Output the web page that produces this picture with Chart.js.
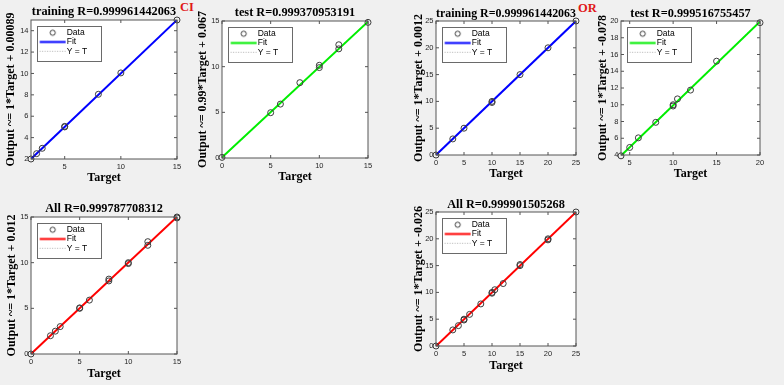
<!DOCTYPE html>
<html>
<head>
<meta charset="utf-8">
<script src="https://cdn.jsdelivr.net/npm/chart.js@4.4.0/dist/chart.umd.min.js"></script>
<style>
  body { margin: 0; background: #f0f0f0; width: 784px; height: 385px; overflow: hidden; position: relative; }
  canvas { position: absolute; }
  .tag { position: absolute; color: #e01818; font: bold 12.5px "Liberation Serif", serif; }
</style>
</head>
<body>
<div class="tag" style="left:180px;top:0px">CI</div>
<div class="tag" style="left:578px;top:1px">OR</div>
<script>
// CI training
const ciTrainTarget = [2, 2.5, 3, 5, 5, 8, 10, 15];
const ciTrainOutput = [2, 2.5, 3, 5, 5.05, 8.05, 10.05, 15];
const ciTrainFitX = [2, 15];
const ciTrainFitY = [2.00089, 15.00089];
const ciTrainRange = [2, 15];
const ciTrainXTicks = [5, 10, 15];
const ciTrainYTicks = [2, 4, 6, 8, 10, 12, 14];

// CI test
const ciTestTarget = [0, 5, 6, 8, 10, 10, 12, 12, 15];
const ciTestOutput = [0.07, 4.96, 5.9, 8.25, 10.15, 9.9, 12.4, 11.95, 14.85];
const ciTestFitX = [0, 15];
const ciTestFitY = [0.067, 14.917];
const ciTestRange = [0, 15];
const ciTestXTicks = [0, 5, 10, 15];
const ciTestYTicks = [0, 5, 10, 15];

// CI all
const ciAllTarget = [0, 2, 2.5, 3, 5, 5, 6, 8, 8, 10, 10, 12, 12, 15, 15];
const ciAllOutput = [0, 2, 2.5, 3, 5, 5.05, 5.9, 8, 8.2, 10, 9.9, 12.3, 11.9, 14.9, 15];
const ciAllFitX = [0, 15];
const ciAllFitY = [0.012, 15.012];
const ciAllRange = [0, 15];
const ciAllXTicks = [0, 5, 10, 15];
const ciAllYTicks = [0, 5, 10, 15];

// OR training
const orTrainTarget = [0, 3, 5, 10, 10, 15, 20, 25];
const orTrainOutput = [0, 3, 5, 10, 9.8, 15, 20, 25];
const orTrainFitX = [0, 25];
const orTrainFitY = [0.0012, 25.0012];
const orTrainRange = [0, 25];
const orTrainXTicks = [0, 5, 10, 15, 20, 25];
const orTrainYTicks = [0, 5, 10, 15, 20, 25];

// OR test
const orTestTarget = [4, 5, 6, 8, 10, 10, 10.5, 12, 15, 20];
const orTestOutput = [3.9, 4.9, 6.05, 7.9, 9.85, 10, 10.7, 11.75, 15.2, 19.8];
const orTestFitX = [4, 20];
const orTestFitY = [3.922, 19.922];
const orTestRange = [4, 20];
const orTestXTicks = [5, 10, 15, 20];
const orTestYTicks = [4, 6, 8, 10, 12, 14, 16, 18, 20];

// OR all
const orAllTarget = [0, 3, 4, 5, 5, 6, 8, 10, 10, 10.5, 12, 15, 15, 20, 20, 25];
const orAllOutput = [0, 3, 3.8, 4.85, 5, 5.9, 7.85, 9.85, 10, 10.5, 11.65, 15.2, 15, 19.8, 20, 25];
const orAllFitX = [0, 25];
const orAllFitY = [-0.026, 24.974];
const orAllRange = [0, 25];
const orAllXTicks = [0, 5, 10, 15, 20, 25];
const orAllYTicks = [0, 5, 10, 15, 20, 25];

const serif = '"Liberation Serif", "Times New Roman", serif';
const sans = '"Liberation Sans", Arial, sans-serif';

// small images used as legend samples
function legendIcon(kind, color) {
  const c = document.createElement('canvas');
  c.width = 38;
  c.height = 9;
  const g = c.getContext('2d');
  g.beginPath();
  if (kind === 'circle') {
    g.strokeStyle = '#3c3c3c';
    g.lineWidth = 1;
    g.arc(24.6, 4.5, 2.6, 0, Math.PI * 2);
  } else {
    g.strokeStyle = color;
    g.lineWidth = kind === 'fit' ? 2 : 1;
    if (kind === 'dot') g.setLineDash([1, 1.5]);
    g.moveTo(11.6, 4.5);
    g.lineTo(37.6, 4.5);
  }
  g.stroke();
  return c;
}

// white plot area, legend box, axes frame with inward ticks
const matlabAxes = {
  id: 'matlabAxes',
  beforeDraw(chart) {
    const {ctx, chartArea: a} = chart;
    ctx.save();
    ctx.fillStyle = '#fff';
    ctx.fillRect(a.left, a.top, a.width, a.height);
    const hb = chart.legend.legendHitBoxes;
    if (hb && hb.length) {
      const right = Math.max(...hb.map(h => h.left + h.width)) + 14;
      const last = hb[hb.length - 1];
      const x0 = a.left + 6, y0 = a.top + 6;
      ctx.strokeStyle = '#6a6a6a';
      ctx.lineWidth = 1;
      ctx.strokeRect(Math.round(x0) + 0.5, Math.round(y0) + 0.5,
        Math.round(right - x0), Math.round(last.top + last.height + 5 - y0));
    }
    ctx.restore();
  },
  afterDatasetsDraw(chart) {
    const {ctx, chartArea: a, scales} = chart;
    ctx.save();
    ctx.strokeStyle = '#555';
    ctx.lineWidth = 1;
    ctx.beginPath();
    scales.x.ticks.forEach(t => {
      const px = scales.x.getPixelForValue(t.value);
      ctx.moveTo(px, a.bottom); ctx.lineTo(px, a.bottom - 3);
      ctx.moveTo(px, a.top); ctx.lineTo(px, a.top + 3);
    });
    scales.y.ticks.forEach(t => {
      const py = scales.y.getPixelForValue(t.value);
      ctx.moveTo(a.left, py); ctx.lineTo(a.left + 3, py);
      ctx.moveTo(a.right, py); ctx.lineTo(a.right - 3, py);
    });
    ctx.stroke();
    ctx.strokeRect(a.left, a.top, a.width, a.height);
    ctx.restore();
  }
};

const panels = [
  { title: 'training R=0.999961442063', ylabel: 'Output ~= 1*Target + 0.00089', color: '#0000ff',
    target: ciTrainTarget, output: ciTrainOutput, fitX: ciTrainFitX, fitY: ciTrainFitY,
    range: ciTrainRange, xTicks: ciTrainXTicks, yTicks: ciTrainYTicks,
    left: 4, top: 4, bottom: 185, plot: [31, 20, 177, 159] },
  { title: 'test R=0.999370953191', ylabel: 'Output ~= 0.99*Target + 0.067', color: '#00ee00',
    target: ciTestTarget, output: ciTestOutput, fitX: ciTestFitX, fitY: ciTestFitY,
    range: ciTestRange, xTicks: ciTestXTicks, yTicks: ciTestYTicks,
    left: 196, top: 5, bottom: 184, plot: [222, 21, 368, 158] },
  { title: 'training R=0.999961442063', ylabel: 'Output ~= 1*Target + 0.0012', color: '#0000ff',
    target: orTrainTarget, output: orTrainOutput, fitX: orTrainFitX, fitY: orTrainFitY,
    range: orTrainRange, xTicks: orTrainXTicks, yTicks: orTrainYTicks,
    left: 412, top: 6, bottom: 181, plot: [436, 21, 576, 155] },
  { title: 'test R=0.999516755457', ylabel: 'Output ~= 1*Target + -0.078', color: '#00ee00',
    target: orTestTarget, output: orTestOutput, fitX: orTestFitX, fitY: orTestFitY,
    range: orTestRange, xTicks: orTestXTicks, yTicks: orTestYTicks,
    left: 596, top: 6, bottom: 181, plot: [621, 21, 760, 155] },
  { title: 'All R=0.999787708312', ylabel: 'Output ~= 1*Target + 0.012', color: '#ff0000',
    target: ciAllTarget, output: ciAllOutput, fitX: ciAllFitX, fitY: ciAllFitY,
    range: ciAllRange, xTicks: ciAllXTicks, yTicks: ciAllYTicks,
    left: 5, top: 201, bottom: 381, plot: [31, 217, 177, 354] },
  { title: 'All R=0.999901505268', ylabel: 'Output ~= 1*Target + -0.026', color: '#ff0000',
    target: orAllTarget, output: orAllOutput, fitX: orAllFitX, fitY: orAllFitY,
    range: orAllRange, xTicks: orAllXTicks, yTicks: orAllYTicks,
    left: 412, top: 197, bottom: 373, plot: [436, 212, 576, 346] }
];

function makePanel(p) {
  const [pl, pt, pr, pb] = p.plot;
  const canvas = document.createElement('canvas');
  canvas.width = pr - p.left + 8;
  canvas.height = p.bottom - p.top;
  canvas.style.left = p.left + 'px';
  canvas.style.top = p.top + 'px';
  document.body.appendChild(canvas);

  const titleSize = 12.3;
  const titlePad = pt - p.top - titleSize * 1.2;
  const icons = [legendIcon('circle'), legendIcon('fit', p.color), legendIcon('dot', '#b0b0b0')];
  const tickFont = {family: sans, size: 7.5};
  const axisTitleFont = {family: serif, size: 12, weight: 'bold'};

  new Chart(canvas, {
    type: 'scatter',
    data: {
      datasets: [
        {
          label: 'Data',
          data: p.target.map((t, i) => ({x: t, y: p.output[i]})),
          pointRadius: 3,
          pointBorderWidth: 1,
          borderColor: '#3c3c3c',
          backgroundColor: 'rgba(0,0,0,0)',
          clip: false
        },
        {
          label: 'Fit',
          data: p.fitX.map((t, i) => ({x: t, y: p.fitY[i]})),
          showLine: true,
          borderColor: p.color,
          borderWidth: 2,
          pointRadius: 0
        },
        {
          label: 'Y = T',
          data: p.range.map(v => ({x: v, y: v})),
          showLine: true,
          borderColor: '#b0b0b0',
          borderDash: [1, 1.5],
          borderWidth: 1,
          pointRadius: 0
        }
      ]
    },
    options: {
      responsive: false,
      animation: false,
      layout: {padding: {right: 8}},
      scales: {
        x: {
          type: 'linear',
          min: p.range[0],
          max: p.range[1],
          afterBuildTicks: s => { s.ticks = p.xTicks.map(v => ({value: v})); },
          afterFit: s => { s.height = p.bottom - pb; },
          grid: {display: false, drawTicks: false},
          border: {display: false},
          ticks: {font: tickFont, color: '#262626', padding: 3, maxRotation: 0, autoSkip: false},
          title: {display: true, text: 'Target', font: axisTitleFont, color: '#000', padding: 0}
        },
        y: {
          type: 'linear',
          min: p.range[0],
          max: p.range[1],
          afterBuildTicks: s => { s.ticks = p.yTicks.map(v => ({value: v})); },
          afterFit: s => { s.width = pl - p.left; },
          grid: {display: false, drawTicks: false},
          border: {display: false},
          ticks: {font: tickFont, color: '#262626', padding: 2.5, autoSkip: false},
          title: {display: true, text: p.ylabel, font: axisTitleFont, color: '#000', padding: 0}
        }
      },
      plugins: {
        tooltip: {enabled: false},
        title: {
          display: true,
          fullSize: false,
          text: p.title,
          color: '#000',
          font: {family: serif, size: titleSize, weight: 'bold'},
          padding: {top: 0, bottom: titlePad}
        },
        legend: {
          position: 'chartArea',
          align: 'start',
          // the legend box starts at the canvas top, so push the rows down into the plot
          title: {display: true, text: '', font: {size: 1}, padding: {top: pt - p.top + 6.45, bottom: 0}},
          labels: {
            usePointStyle: true,
            pointStyleWidth: 30.65,
            boxHeight: 8.5,
            padding: 0.8,
            color: '#000',
            font: {family: sans, size: 8.5},
            generateLabels: chart => {
              const items = Chart.defaults.plugins.legend.labels.generateLabels(chart);
              items.forEach((it, i) => { it.pointStyle = icons[i]; });
              return items;
            }
          }
        }
      }
    },
    plugins: [matlabAxes]
  });
}

panels.forEach(makePanel);
</script>
</body>
</html>
